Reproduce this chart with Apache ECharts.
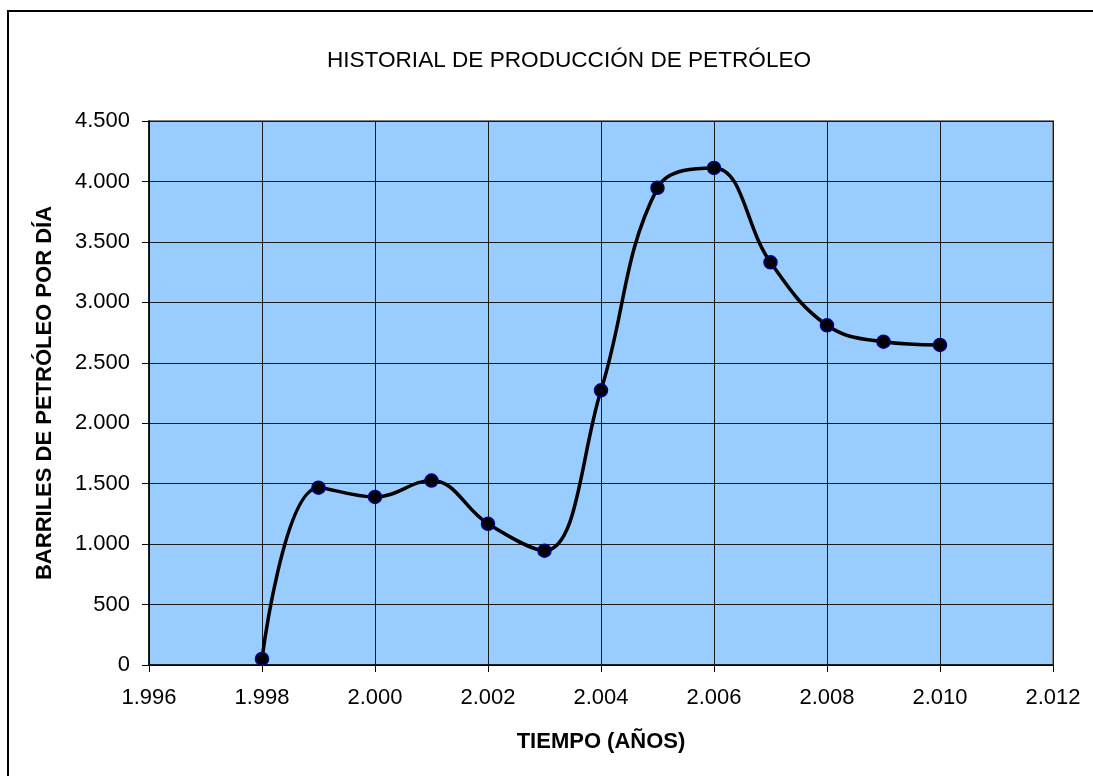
<!DOCTYPE html>
<html>
<head>
<meta charset="utf-8">
<script src="https://cdn.jsdelivr.net/npm/echarts@6/dist/echarts.min.js"></script>
<style>
  html, body { margin: 0; padding: 0; background: #fff; }
  #chart { width: 1093px; height: 776px; }
</style>
</head>
<body>
<div id="chart"></div>
<script>
const titleText = 'HISTORIAL DE PRODUCCIÓN DE PETRÓLEO';
const xAxisName = 'TIEMPO (AÑOS)';
const yAxisName = 'BARRILES DE PETRÓLEO POR DÍA';
const years = [1998, 1999, 2000, 2001, 2002, 2003, 2004, 2005, 2006, 2007, 2008, 2009, 2010];
const production = [50, 1467, 1390, 1526, 1168, 946, 2272, 3947, 4112, 3331, 2810, 2674, 2648];
const xMin = 1996, xMax = 2012, xStep = 2;
const yMin = 0, yMax = 4500, yStep = 500;

function fmt(v) {
  return String(Math.round(v)).replace(/\B(?=(\d{3})+(?!\d))/g, '.');
}

const FONT = '"Liberation Sans", Arial, sans-serif';
const chart = echarts.init(document.getElementById('chart'), null, { renderer: 'canvas' });
chart.setOption({
  backgroundColor: '#ffffff',
  animation: false,
  title: {
    text: titleText,
    left: 564,
    top: 44,
    textAlign: 'center',
    textStyle: { fontFamily: FONT, fontSize: 22.6, fontWeight: 'normal', color: '#000' }
  },
  graphic: [{
    type: 'rect',
    shape: { x: 8, y: 11, width: 1200, height: 900 },
    style: { fill: 'none', stroke: '#000', lineWidth: 2 },
    z: -1
  }],
  grid: {
    left: 149, top: 121, right: 40, bottom: 111,
    show: true,
    backgroundColor: '#99CCFF',
    borderColor: '#808080',
    borderWidth: 2
  },
  xAxis: {
    type: 'value',
    min: xMin, max: xMax, interval: xStep,
    name: xAxisName,
    nameLocation: 'middle',
    nameGap: 66,
    nameTextStyle: { fontFamily: FONT, fontSize: 22, fontWeight: 'bold', color: '#000' },
    axisLine: { show: true, onZero: false, lineStyle: { color: '#000', width: 1.5 } },
    axisTick: { show: true, inside: false, length: 7, lineStyle: { color: '#000', width: 1 } },
    axisLabel: { fontFamily: FONT, fontSize: 22, color: '#000', margin: 22, formatter: fmt },
    splitLine: { show: true, lineStyle: { color: '#1a1a1a', width: 1 } }
  },
  yAxis: {
    type: 'value',
    min: yMin, max: yMax, interval: yStep,
    name: yAxisName,
    nameLocation: 'middle',
    nameGap: 93,
    nameRotate: 90,
    nameTextStyle: { fontFamily: FONT, fontSize: 22, fontWeight: 'bold', color: '#000' },
    axisLine: { show: true, lineStyle: { color: '#000', width: 1.5 } },
    axisTick: { show: true, inside: false, length: 7, lineStyle: { color: '#000', width: 1 } },
    axisLabel: { fontFamily: FONT, fontSize: 22, color: '#000', margin: 19, formatter: fmt },
    splitLine: { show: true, lineStyle: { color: '#1a1a1a', width: 1 } }
  },
  series: [{
    type: 'line',
    data: years.map((y, i) => [y, production[i]]),
    smooth: 0.4,
    symbol: 'circle',
    symbolSize: 13,
    itemStyle: { color: '#000000', borderColor: '#000080', borderWidth: 1.5 },
    lineStyle: { color: '#000000', width: 3.5 },
    z: 5
  }]
});
</script>
</body>
</html>
